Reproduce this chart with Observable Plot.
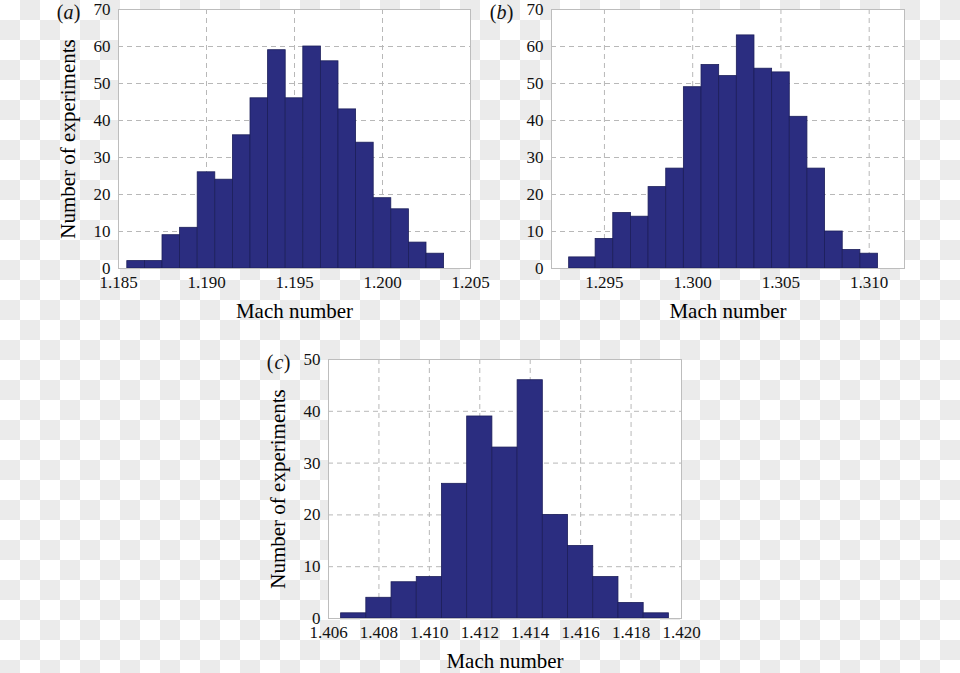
<!DOCTYPE html>
<html>
<head>
<meta charset="utf-8">
<script src="https://cdn.jsdelivr.net/npm/d3@7"></script>
<script src="https://cdn.jsdelivr.net/npm/@observablehq/plot@0.6"></script>
<style>
  html, body { margin: 0; padding: 0; }
  body {
    width: 960px; height: 673px; position: relative; overflow: hidden;
    background-color: #fff;
    background-image: conic-gradient(#ebebeb 0 25%, #fff 0 50%, #ebebeb 0 75%, #fff 0);
    background-size: 40px 40px;
    background-position: 0 0;
  }
  .panel { position: absolute; }
  .panel svg { overflow: visible; }
</style>
</head>
<body>
<div id="pa" class="panel" style="left:0px;top:0px"></div>
<div id="pb" class="panel" style="left:480px;top:0px"></div>
<div id="pc" class="panel" style="left:250px;top:340px"></div>
<script>
// ---- Panel (a) ----
const aEdges = [1.1855, 1.1865, 1.1875, 1.1885, 1.1895, 1.1905, 1.1915, 1.1925, 1.1935, 1.1945,
                1.1955, 1.1965, 1.1975, 1.1985, 1.1995, 1.2005, 1.2015, 1.2025, 1.2035];
const aCounts = [2, 2, 9, 11, 26, 24, 36, 46, 59, 46, 60, 56, 43, 34, 19, 16, 7, 4];
const aXTicks = [1.185, 1.190, 1.195, 1.200, 1.205];
const aYTicks = [0, 10, 20, 30, 40, 50, 60, 70];

// ---- Panel (b) ----
const bEdges = [1.2930, 1.2945, 1.2955, 1.2965, 1.2975, 1.2985, 1.2995, 1.3005, 1.3015, 1.3025,
                1.3035, 1.3045, 1.3055, 1.3065, 1.3075, 1.3085, 1.3095, 1.3105];
const bCounts = [3, 8, 15, 14, 22, 27, 49, 55, 52, 63, 54, 53, 41, 27, 10, 5, 4];
const bXTicks = [1.295, 1.300, 1.305, 1.310];
const bYTicks = [0, 10, 20, 30, 40, 50, 60, 70];

// ---- Panel (c) ----
const cEdges = [1.4065, 1.4075, 1.4085, 1.4095, 1.4105, 1.4115, 1.4125, 1.4135, 1.4145,
                1.4155, 1.4165, 1.4175, 1.4185, 1.4195];
const cCounts = [1, 4, 7, 8, 26, 39, 33, 46, 20, 14, 8, 3, 1];
const cXTicks = [1.406, 1.408, 1.410, 1.412, 1.414, 1.416, 1.418, 1.420];
const cYTicks = [0, 10, 20, 30, 40, 50];

const xLabel = "Mach number";
const yLabel = "Number of experiments";

function bins(edges, counts) {
  return counts.map((c, i) => ({x1: edges[i], x2: edges[i + 1], count: c}));
}

const FONT = "'Liberation Serif', 'Times New Roman', Times, serif";
const GRID = {stroke: "#b8b8b8", strokeOpacity: 1, strokeWidth: 1, strokeDasharray: "5,4"};

function panel({el, width, height, margin, xDomain, yDomain, xTicks, yTicks, edges, counts, letter, showYLabel}) {
  const marks = [
    Plot.frame({fill: "white", stroke: null}),
    Plot.gridX(xTicks, GRID),
    Plot.gridY(yTicks, GRID),
    Plot.rectY(bins(edges, counts), {x1: "x1", x2: "x2", y: "count", fill: "#2b2d80", stroke: "#1c1e5a", strokeWidth: 0.8}),
    Plot.frame({stroke: "#bdbdbd", strokeWidth: 1}),
    Plot.axisX(xTicks, {tickSize: 0, tickPadding: 7, tickFormat: d3.format(".3f"), label: null, fontSize: 17}),
    Plot.axisY(yTicks, {tickSize: 0, tickPadding: 8, label: null, fontSize: 17}),
    Plot.text([xLabel], {text: d => d, frameAnchor: "bottom", lineAnchor: "middle", dy: 43, fontSize: 21, fill: "black"}),
    Plot.text(["("], {text: d => d, frameAnchor: "top-left", textAnchor: "end", dx: -55, dy: 3, fontSize: 20, lineAnchor: "middle"}),
    Plot.text([letter], {text: d => d, frameAnchor: "top-left", textAnchor: "end", dx: -45, dy: 3, fontSize: 20, fontStyle: "italic", lineAnchor: "middle"}),
    Plot.text([")"], {text: d => d, frameAnchor: "top-left", textAnchor: "end", dx: -38, dy: 3, fontSize: 20, lineAnchor: "middle"})
  ];
  if (showYLabel) {
    marks.push(Plot.text([yLabel], {text: d => d, frameAnchor: "left", textAnchor: "middle", lineAnchor: "middle", rotate: -90, dx: -50, fontSize: 21, fill: "black"}));
  }
  const chart = Plot.plot({
    width, height,
    marginLeft: margin[0], marginRight: margin[1], marginTop: margin[2], marginBottom: margin[3],
    x: {domain: xDomain},
    y: {domain: yDomain},
    style: {fontFamily: FONT, fontSize: "17px", background: "transparent", color: "#111", overflow: "visible"},
    marks
  });
  document.getElementById(el).appendChild(chart);
}

panel({el: "pa", width: 480, height: 330, margin: [118, 10, 9, 62],
  xDomain: [1.185, 1.205], yDomain: [0, 70], xTicks: aXTicks, yTicks: aYTicks,
  edges: aEdges, counts: aCounts, letter: "a", showYLabel: true});
panel({el: "pb", width: 480, height: 330, margin: [71, 56, 9, 62],
  xDomain: [1.292, 1.312], yDomain: [0, 70], xTicks: bXTicks, yTicks: bYTicks,
  edges: bEdges, counts: bCounts, letter: "b", showYLabel: false});
panel({el: "pc", width: 460, height: 333, margin: [78, 29, 19, 55],
  xDomain: [1.406, 1.420], yDomain: [0, 50], xTicks: cXTicks, yTicks: cYTicks,
  edges: cEdges, counts: cCounts, letter: "c", showYLabel: true});
</script>
</body>
</html>
